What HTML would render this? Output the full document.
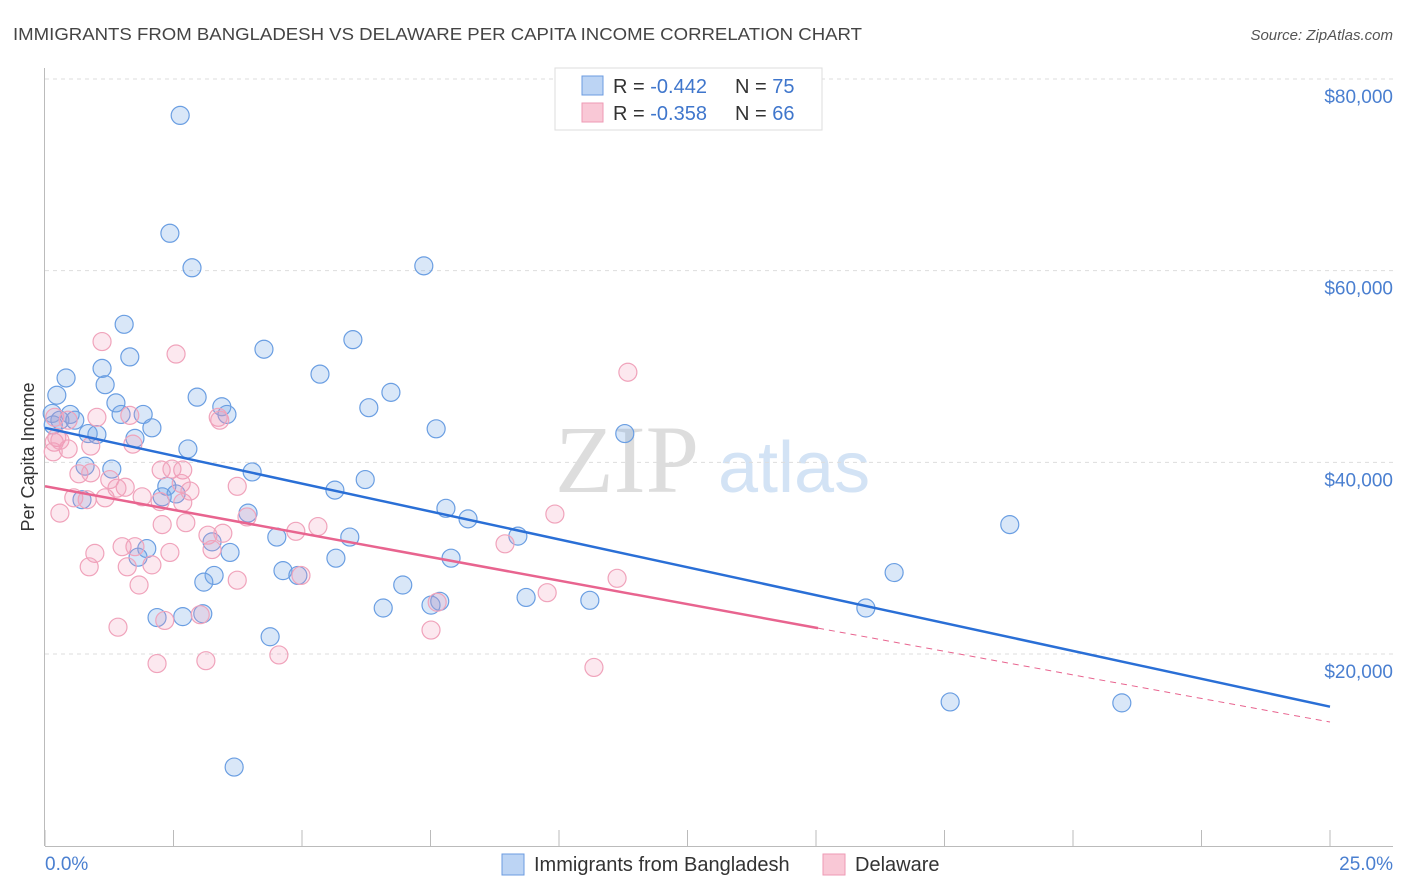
<!DOCTYPE html>
<html><head><meta charset="utf-8"><style>
body{margin:0;background:#fff;font-family:"Liberation Sans",sans-serif;}
svg{display:block}
</style></head><body>
<svg id="c" width="1406" height="892" xmlns="http://www.w3.org/2000/svg">
<text x="13" y="40" font-size="17.5" fill="#444" textLength="849" lengthAdjust="spacingAndGlyphs">IMMIGRANTS FROM BANGLADESH VS DELAWARE PER CAPITA INCOME CORRELATION CHART</text>
<text x="1393" y="40" font-size="15" fill="#555" font-style="italic" text-anchor="end">Source: ZipAtlas.com</text>
<text x="555" y="492" font-size="96" fill="#ddd" font-family="Liberation Serif,serif">ZIP</text>
<text x="718" y="492" font-size="72" fill="#d3e3f5">atlas</text>
<g id="grid"></g><g id="axes"></g><g id="pts"></g><g id="lines"></g>
<text x="34" y="457" font-size="18" fill="#333" text-anchor="middle" transform="rotate(-90 34 457)">Per Capita Income</text>
<text x="45" y="870" font-size="19" fill="#4a7fd0">0.0%</text>
<text x="1393" y="870" font-size="19" fill="#4a7fd0" text-anchor="end">25.0%</text>
<g>
<rect x="555" y="68" width="267" height="62" fill="#fff" stroke="#ddd"/>
<rect x="582" y="76" width="21" height="19" fill="#bcd4f4" stroke="#6b9be0"/>
<rect x="582" y="103" width="21" height="19" fill="#f9c8d6" stroke="#ee9ab4"/>
<text x="613" y="93" font-size="20" fill="#333">R = <tspan fill="#3f76cc">-0.442</tspan></text>
<text x="735" y="93" font-size="20" fill="#333">N = <tspan fill="#3f76cc">75</tspan></text>
<text x="613" y="120" font-size="20" fill="#333">R = <tspan fill="#3f76cc">-0.358</tspan></text>
<text x="735" y="120" font-size="20" fill="#333">N = <tspan fill="#3f76cc">66</tspan></text>
</g>
<rect x="502" y="854" width="22" height="21" fill="#bcd4f4" stroke="#6b9be0"/>
<text x="534" y="871" font-size="20" fill="#333">Immigrants from Bangladesh</text>
<rect x="823" y="854" width="22" height="21" fill="#f9c8d6" stroke="#ee9ab4"/>
<text x="855" y="871" font-size="20" fill="#333">Delaware</text>
</svg>
<script>
const yTicks=[20000,40000,60000,80000];
const yTickLabels=["$20,000","$40,000","$60,000","$80,000"];
const xTicks=[0,2.5,5,7.5,10,12.5,15,17.5,20,22.5,25];
const blueX=[2.63,2.43,2.86,7.37,1.54,5.99,4.26,1.65,1.11,0.41,5.35,1.17,6.73,0.23,2.96,1.38,3.44,6.30,0.14,0.49,1.91,1.48,3.54,0.29,0.58,0.16,2.08,0.84,1.01,7.61,11.28,1.75,2.78,0.78,1.30,4.03,6.23,2.37,5.64,2.28,2.55,0.72,7.80,3.95,8.23,9.20,4.51,5.93,3.25,1.98,3.60,1.81,7.90,5.66,4.63,3.29,4.92,3.09,6.96,16.52,18.77,9.36,10.60,7.68,7.51,6.58,15.97,2.68,2.18,3.07,4.38,17.61,20.95,3.68];
const blueY=[76.2,63.9,60.3,60.5,54.4,52.8,51.8,51.0,49.8,48.8,49.2,48.1,47.3,47.0,46.8,46.2,45.8,45.7,45.1,45.0,45.0,45.0,45.0,44.4,44.4,43.9,43.6,43.0,42.9,43.5,43.0,42.5,41.4,39.6,39.3,39.0,38.2,37.5,37.1,36.4,36.7,36.1,35.2,34.7,34.1,32.3,32.2,32.2,31.7,31.0,30.6,30.1,30.0,30.0,28.7,28.2,28.2,27.5,27.2,28.5,33.5,25.9,25.6,25.5,25.1,24.8,24.8,23.9,23.8,24.2,21.8,15.0,14.9,8.2];
const pinkX=[1.11,2.55,11.34,1.01,3.37,1.65,0.19,0.45,0.23,0.18,0.45,0.89,1.71,0.16,2.26,0.66,0.89,2.68,2.47,1.56,2.65,3.74,0.56,1.17,0.82,1.40,1.89,2.24,2.68,2.82,3.93,9.92,0.29,2.28,2.74,3.17,4.88,5.31,3.46,8.95,0.97,1.50,1.75,2.43,3.25,0.86,1.60,2.08,3.74,4.98,11.13,1.83,9.77,7.63,1.42,2.33,3.02,7.51,4.55,3.13,2.18,10.68,0.29,3.40,1.26];
const pinkY=[52.6,51.3,49.4,44.7,44.7,44.9,44.7,44.4,42.6,42.1,41.4,41.7,41.9,41.1,39.2,38.8,38.9,39.2,39.3,37.4,37.8,37.5,36.3,36.3,36.1,37.3,36.4,35.9,35.8,37.0,34.3,34.6,34.7,33.5,33.7,32.4,32.8,33.3,32.6,31.5,30.5,31.2,31.2,30.6,30.9,29.1,29.1,29.3,27.7,28.2,27.9,27.2,26.4,25.4,22.8,23.5,24.1,22.5,19.9,19.3,19.0,18.6,42.3,44.4,38.2];
const blueFit=[43.6,14.5];
const pinkFit=[37.5,12.9];
const pinkSolidEnd=15.04;
const NS="http://www.w3.org/2000/svg";
const X=v=>45+v*51.4;
const Y=v=>654-(v-20000)*0.0095835;
const Yk=k=>Y(k*1000);
function mk(t,a,p){const e=document.createElementNS(NS,t);for(const k in a)e.setAttribute(k,a[k]);document.getElementById(p).appendChild(e);return e;}
yTicks.forEach((t,i)=>{
 const g=mk('line',{x1:45,x2:1393,y1:Y(t),y2:Y(t),stroke:'#ddd','stroke-dasharray':'4,4'},'grid');
 
 
 const tx=mk('text',{x:1393,y:Y(t)+24,'font-size':19,fill:'#4a7fd0','text-anchor':'end'},'grid');
 tx.textContent=yTickLabels[i];
 
 
});
const topG=mk('line',{x1:45,x2:1393,y1:79,y2:79,stroke:'#ddd','stroke-dasharray':'4,4'},'grid');


const ya=mk('line',{x1:44.5,x2:44.5,y1:68,y2:846,stroke:'#bbb'},'axes');


const xa=mk('line',{x1:45,x2:1393,y1:846.5,y2:846.5,stroke:'#bbb'},'axes');


xTicks.forEach(t=>{
 const l=mk('line',{x1:X(t),x2:X(t),y1:830,y2:846,stroke:'#bbb'},'axes');
 
 
});
blueX.forEach((x,i)=>{
 const c=mk('circle',{cx:X(x),cy:Yk(blueY[i]),r:9,fill:'rgba(120,170,230,0.28)',stroke:'#6a9ee2','stroke-width':1.2},'pts');
 
 
});
pinkX.forEach((x,i)=>{
 const c=mk('circle',{cx:X(x),cy:Yk(pinkY[i]),r:9,fill:'rgba(242,150,180,0.22)',stroke:'#f0a3bb','stroke-width':1.2},'pts');
 
 
});
const pk=x=>pinkFit[0]+(pinkFit[1]-pinkFit[0])*x/25;
const bl=mk('line',{x1:X(0),y1:Yk(blueFit[0]),x2:X(25),y2:Yk(blueFit[1]),stroke:'#2a6fd6','stroke-width':2.5},'lines');


const pl=mk('line',{x1:X(0),y1:Yk(pk(0)),x2:X(pinkSolidEnd),y2:Yk(pk(pinkSolidEnd)),stroke:'#e8648f','stroke-width':2.5},'lines');


const pd=mk('line',{x1:X(pinkSolidEnd),y1:Yk(pk(pinkSolidEnd)),x2:X(25),y2:Yk(pk(25)),stroke:'#e8648f','stroke-width':1,'stroke-dasharray':'6,5'},'lines');


</script>
</body></html>
